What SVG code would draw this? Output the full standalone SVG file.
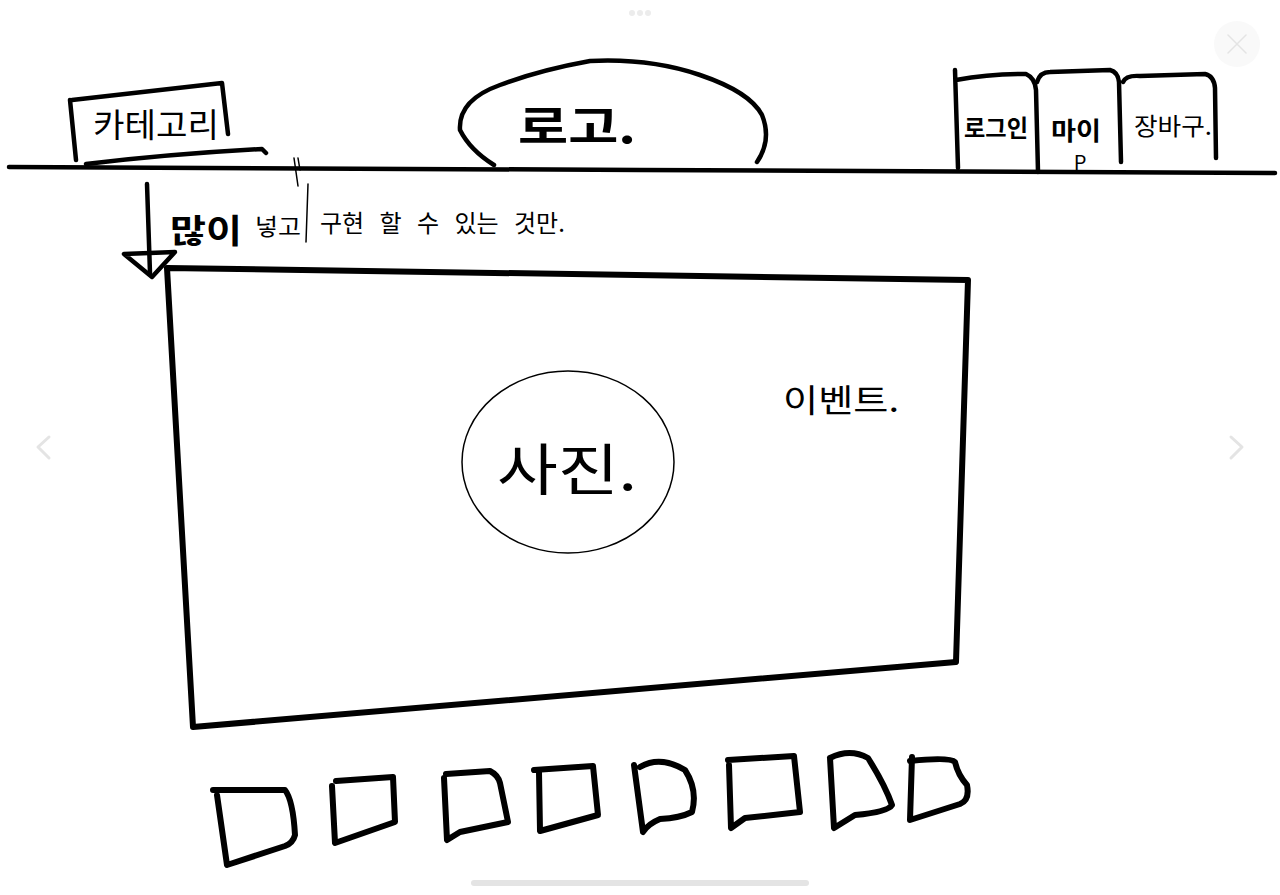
<svg xmlns="http://www.w3.org/2000/svg" width="1280" height="895" viewBox="0 0 1280 895">
<style>
.ink{fill:none;stroke:#000;stroke-linecap:round;stroke-linejoin:round}
.heavy{stroke-width:6}
.med{stroke-width:4.5}
.thin{stroke-width:1.5}
.t{font-family:"Noto Sans CJK KR","Noto Sans",sans-serif;fill:#000}
.b{font-weight:700}
.l{font-weight:400}
.ui{fill:none;stroke:#e4e4e4;stroke-linecap:round;stroke-linejoin:round}
</style>
<rect width="1280" height="895" fill="#fff"/>

<g id="viewer-ui">
<circle cx="632" cy="13" r="3" fill="#ececec"/>
<circle cx="640" cy="13" r="3" fill="#ececec"/>
<circle cx="648" cy="13" r="3" fill="#ececec"/>
<circle cx="1237" cy="44" r="23" fill="#f9f9f9"/>
<path class="ui" stroke-width="1.5" d="M1228 35 L1246 53 M1246 35 L1228 53"/>
<path class="ui" stroke-width="3" d="M49 437 L38 447 L49 458"/>
<path class="ui" stroke-width="3" d="M1231 437 L1242 447 L1231 458"/>
<path class="ui" stroke-width="6" stroke="#e8e8e8" d="M474 883 L806 883"/>
</g>

<g id="header">
<path class="ink med" d="M9 167 L640 170 L1275 173"/>
</g>

<g id="category">
<path class="ink med" d="M70 100 L76 160 M72 100 Q140 92 222 83 L228 134 M86 164 Q170 154 262 149 L266 153"/>
<path class="ink thin" d="M294 158 L298 186 M298 158 L300 170"/>
<text class="t l" x="156" y="137" font-size="33" text-anchor="middle" textLength="126" lengthAdjust="spacingAndGlyphs">카테고리</text>
</g>

<g id="logo">
<path class="ink med" d="M494 165 Q470 150 460 130 Q458 100 500 85 Q540 70 590 61 Q650 58 700 75 Q750 92 762 115 Q772 140 757 162"/>
<text class="t b" x="518" y="143" font-size="44" textLength="118" lengthAdjust="spacingAndGlyphs">로고.</text>
</g>

<g id="login">
<path class="ink med" d="M955 70 L958 168 M956 80 Q990 74 1026 74 Q1035 78 1036 90 L1038 172"/>
<text class="t b" x="996" y="137" font-size="24" text-anchor="middle" textLength="64" lengthAdjust="spacingAndGlyphs">로그인</text>
</g>

<g id="mypage">
<path class="ink med" d="M1037 82 Q1040 72 1050 72 L1110 70 Q1118 72 1119 82 L1121 162"/>
<text class="t b" x="1076" y="140" font-size="25" text-anchor="middle" textLength="50" lengthAdjust="spacingAndGlyphs">마이</text>
<text class="t l" x="1080" y="170" font-size="20" text-anchor="middle">P</text>
</g>

<g id="cart">
<path class="ink med" d="M1123 82 Q1126 75 1140 76 L1205 74 Q1214 76 1215 88 L1216 158"/>
<text class="t l" x="1134" y="135" font-size="24" textLength="78" lengthAdjust="spacingAndGlyphs">장바구.</text>
</g>

<g id="note">
<path class="ink med" d="M147 184 L150 273"/>
<path class="ink med" d="M124 254 L175 252 L152 277 Z"/>
<text class="t b" x="170" y="243" font-size="33" textLength="72" lengthAdjust="spacingAndGlyphs">많이</text>
<text class="t l" x="255" y="235" font-size="23" textLength="46" lengthAdjust="spacingAndGlyphs">넣고</text>
<path class="ink thin" d="M308 184 L306 242"/>
<text class="t l" x="320" y="232" font-size="24" word-spacing="10">구현 할 수  있는 것만.</text>
</g>

<g id="banner">
<path class="ink heavy" d="M167 268 L968 280 L956 662 L193 727 Z"/>
<text class="t l" x="783" y="412" font-size="32" textLength="116" lengthAdjust="spacingAndGlyphs">이벤트.</text>
</g>

<g id="photo">
<ellipse class="ink thin" cx="568" cy="462" rx="106" ry="91"/>
<text class="t l" x="497" y="490" font-size="56" textLength="140" lengthAdjust="spacingAndGlyphs">사진.</text>
</g>

<g id="thumbnails">
<path class="ink heavy" d="M213 790 L285 790 Q293 800 295 835 Q293 843 285 846 L227 865 L217 795"/>
<path class="ink heavy" d="M336 781 L393 777 L395 822 L335 843 L332 786"/>
<path class="ink heavy" d="M446 774 L490 771 Q498 775 500 783 L508 822 L460 832 L447 840 L444 778"/>
<path class="ink heavy" d="M534 770 L593 766 L598 815 L540 831 L539 772"/>
<path class="ink heavy" d="M640 767 Q660 755 685 770 Q698 790 692 812 Q680 818 660 819 Q648 824 643 832 L634 765"/>
<path class="ink heavy" d="M728 760 L794 756 L800 812 L745 818 L731 828 L729 765"/>
<path class="ink heavy" d="M830 758 Q850 748 868 758 Q885 785 892 805 Q888 812 855 815 L834 828 L830 758"/>
<path class="ink heavy" d="M912 757 L910 820 L960 804 Q970 800 967 785 Q958 775 955 762 Q950 757 910 761"/>
</g>
</svg>
